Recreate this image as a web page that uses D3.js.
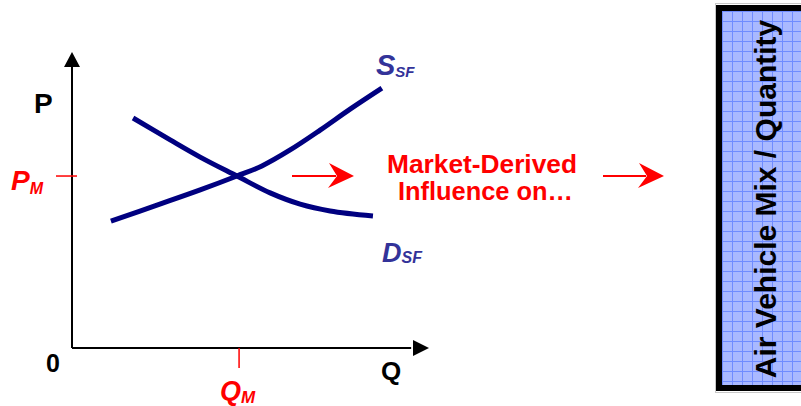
<!DOCTYPE html>
<html>
<head>
<meta charset="utf-8">
<script src="https://cdn.jsdelivr.net/npm/d3@7"></script>
<style>
  body { margin: 0; background: #fff; }
  svg { display: block; font-family: "Liberation Sans", Arial, sans-serif; }
</style>
</head>
<body>
<div id="chart"></div>
<script>
// Curve data in chart units (Q and P from 0 to 100)
const supplyQ = [10.9, 24.6, 35.9, 46.2, 53.2, 61.1, 69.5, 77.9, 86.8];
const supplyP = [42.9, 48.6, 53.4, 58.1, 61.5, 66.9, 73.6, 80.7, 87.8];
const demandQ = [17.1, 27.5, 35.9, 46.2, 55.5, 63.9, 72.3, 84.3];
const demandP = [77.7, 70.3, 64.5, 58.1, 52.4, 48.6, 46.3, 44.6];
const equilibriumQ = 46.8;
const equilibriumP = 58.1;
const boxLabel = "Air Vehicle Mix / Quantity";
const middleLines = ["Market-Derived", "Influence on…"];

const width = 801, height = 406;
const svg = d3.select("#chart").append("svg")
  .attr("width", width)
  .attr("height", height);

// Scales for the supply / demand diagram
const x = d3.scaleLinear().domain([0, 100]).range([72, 429]);
const y = d3.scaleLinear().domain([0, 100]).range([348, 52]);

const navy = "#000080";
const labelBlue = "#333399";
const red = "#ff0000";

// Axes with arrow heads
svg.append("line")
  .attr("x1", x(0)).attr("y1", y(0))
  .attr("x2", x(0)).attr("y2", y(95))
  .attr("stroke", "#000").attr("stroke-width", 2);
svg.append("line")
  .attr("x1", x(0)).attr("y1", y(0))
  .attr("x2", x(95)).attr("y2", y(0))
  .attr("stroke", "#000").attr("stroke-width", 2);
svg.append("path")
  .attr("d", `M${x(0)},${y(100)} L${x(0) - 8},${y(100) + 15} L${x(0) + 8},${y(100) + 15} Z`)
  .attr("fill", "#000");
svg.append("path")
  .attr("d", `M${x(100)},${y(0)} L${x(100) - 16},${y(0) - 8} L${x(100) - 16},${y(0) + 8} Z`)
  .attr("fill", "#000");

// Curves
const line = d3.line()
  .x((d) => x(d[0]))
  .y((d) => y(d[1]))
  .curve(d3.curveCatmullRom.alpha(0.5));

svg.append("path")
  .datum(d3.zip(supplyQ, supplyP))
  .attr("d", line)
  .attr("fill", "none")
  .attr("stroke", navy)
  .attr("stroke-width", 5);

svg.append("path")
  .datum(d3.zip(demandQ, demandP))
  .attr("d", line)
  .attr("fill", "none")
  .attr("stroke", navy)
  .attr("stroke-width", 5);

// Equilibrium ticks
svg.append("line")
  .attr("x1", x(0) - 16).attr("x2", x(0) + 5)
  .attr("y1", y(equilibriumP)).attr("y2", y(equilibriumP))
  .attr("stroke", red).attr("stroke-width", 1.5);
svg.append("line")
  .attr("x1", x(equilibriumQ)).attr("x2", x(equilibriumQ))
  .attr("y1", y(0)).attr("y2", y(0) + 20)
  .attr("stroke", red).attr("stroke-width", 1.5);

// Axis labels
svg.append("text").attr("x", 34).attr("y", 113)
  .attr("font-size", 28).attr("font-weight", "bold").text("P");
svg.append("text").attr("x", 46).attr("y", 372)
  .attr("font-size", 25).attr("font-weight", "bold").text("0");
svg.append("text").attr("x", 381).attr("y", 380)
  .attr("font-size", 26).attr("font-weight", "bold").text("Q");

// Subscripted labels
function subLabel(px, py, main, sub, size, subSize, dy, color) {
  const t = svg.append("text")
    .attr("x", px).attr("y", py)
    .attr("font-weight", "bold").attr("font-style", "italic")
    .attr("fill", color);
  t.append("tspan").attr("font-size", size).text(main);
  t.append("tspan").attr("font-size", subSize).attr("dy", dy).text(sub);
}
subLabel(11, 190, "P", "M", 28, 16, 4, red);
subLabel(220, 400, "Q", "M", 27, 17, 2.5, red);
subLabel(376, 75, "S", "SF", 29, 15, 2, labelBlue);
subLabel(382, 262, "D", "SF", 27, 16, 1, labelBlue);

// Red arrows
function arrow(x0, x1, yy) {
  svg.append("line")
    .attr("x1", x0).attr("x2", x1 - 18)
    .attr("y1", yy).attr("y2", yy)
    .attr("stroke", red).attr("stroke-width", 2);
  svg.append("path")
    .attr("d", `M${x1},${yy} L${x1 - 25},${yy - 13} L${x1 - 17},${yy} L${x1 - 26},${yy + 12} Z`)
    .attr("fill", red);
}
arrow(292, 354, 176);
arrow(603, 664, 176);

// Middle text
svg.append("text")
  .attr("x", 387).attr("y", 172.5)
  .attr("font-size", 25.5).attr("font-weight", "bold").attr("fill", red)
  .attr("textLength", 190).attr("lengthAdjust", "spacingAndGlyphs")
  .text(middleLines[0]);
svg.append("text")
  .attr("x", 398).attr("y", 200)
  .attr("font-size", 25.5).attr("font-weight", "bold").attr("fill", red)
  .attr("textLength", 175).attr("lengthAdjust", "spacingAndGlyphs")
  .text(middleLines[1]);

// Right box with grid pattern
const defs = svg.append("defs");
const pat = defs.append("pattern")
  .attr("id", "grid")
  .attr("patternUnits", "userSpaceOnUse")
  .attr("x", 722).attr("y", 11)
  .attr("width", 10).attr("height", 10);
pat.append("rect").attr("width", 10).attr("height", 10).attr("fill", "#a9b9ff");
pat.append("path").attr("d", "M0,0.5 H10 M0.5,0 V10")
  .attr("stroke", "#6f8cff").attr("stroke-width", 1);

svg.append("rect")
  .attr("x", 715.5).attr("y", 3.5)
  .attr("width", 100).attr("height", 389)
  .attr("fill", "none").attr("stroke", "#c8c8c8").attr("stroke-width", 1);
svg.append("rect")
  .attr("x", 719).attr("y", 8)
  .attr("width", 100).attr("height", 380)
  .attr("fill", "url(#grid)")
  .attr("stroke", "#000").attr("stroke-width", 6);

svg.append("text")
  .attr("transform", "translate(776,199) rotate(-90)")
  .attr("text-anchor", "middle")
  .attr("font-size", 30).attr("font-weight", "bold")
  .text(boxLabel);
</script>
</body>
</html>
